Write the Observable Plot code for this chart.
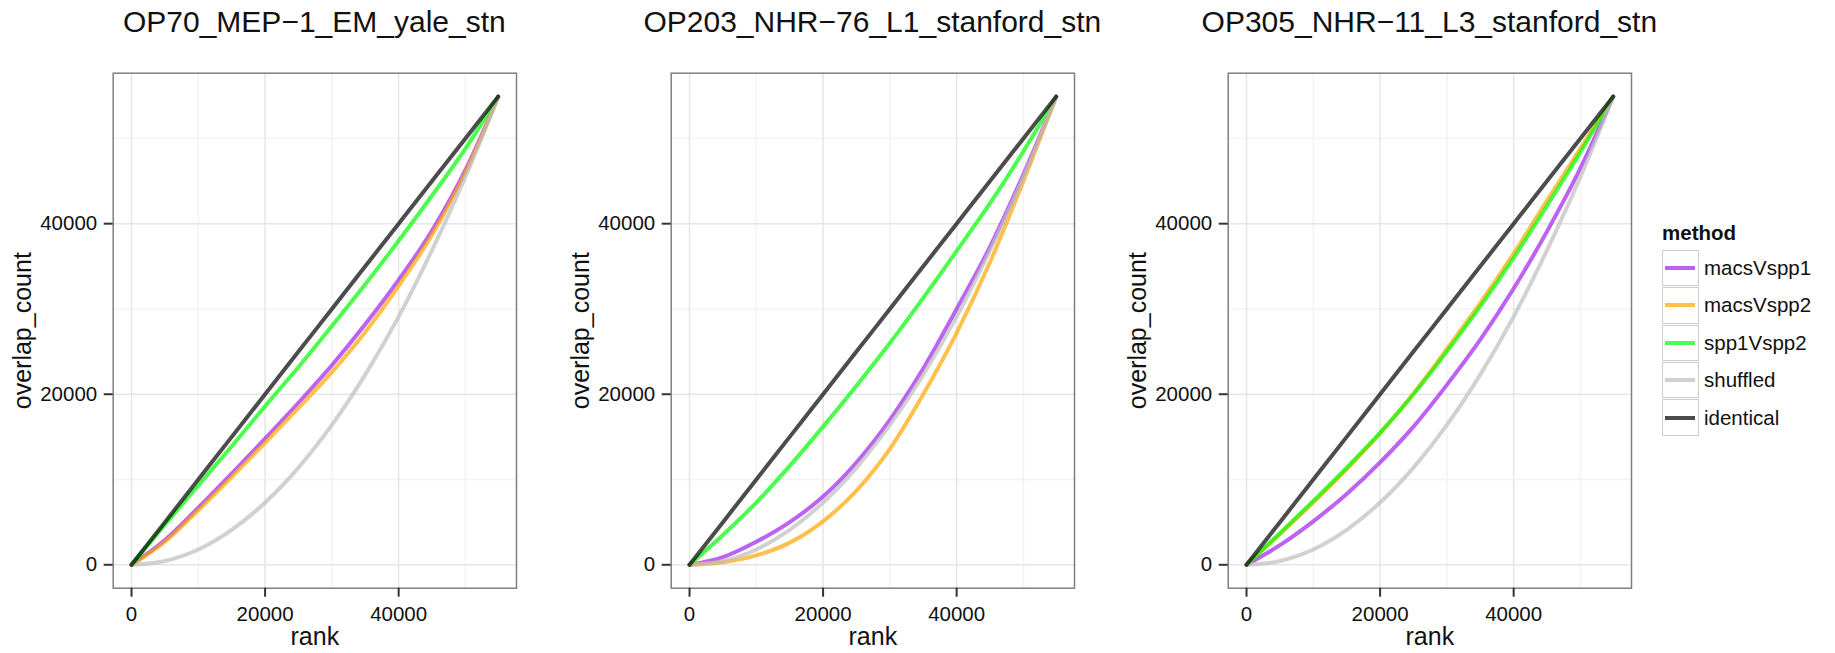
<!DOCTYPE html>
<html>
<head>
<meta charset="utf-8">
<script src="https://cdn.jsdelivr.net/npm/d3@7"></script>
<script src="https://cdn.jsdelivr.net/npm/@observablehq/plot@0.6"></script>
<style>
  html, body { margin: 0; padding: 0; background: #fff; }
  #root { position: relative; width: 1835px; height: 653px; overflow: hidden; font-family: "Liberation Sans", Arial, Helvetica, sans-serif; color: #111; }
  .ptitle { position: absolute; top: 6.9px; width: 600px; text-align: center; font-size: 30px; line-height: 30px; white-space: nowrap; }
  .panel { position: absolute; top: 40px; }
  #legend { position: absolute; left: 1662px; top: 222.6px; }
  #legend .lt { font-weight: bold; font-size: 20.5px; line-height: 20.5px; height: 26.7px; }
  #legend .row { display: flex; align-items: center; height: 37.4px; margin-left: -0.3px; }
  #legend .key { width: 35.3px; height: 34.4px; border: 1.5px solid #cccccc; background: #fff; display: flex; align-items: center; justify-content: center; }
  #legend .lab { font-size: 20.5px; margin-left: 5px; }
</style>
</head>
<body>
<div id="root"></div>
<script>
// ---- data ----
const ranks = [0, 5000, 10000, 15000, 20000, 25000, 30000, 35000, 40000, 45000, 50000, 54900];
const methods = ["macsVspp1", "macsVspp2", "spp1Vspp2", "shuffled", "identical"];
const methodColors = ["#a020f0", "#ffa500", "#00ff00", "#bebebe", "#000000"];
const panelTitles = ["OP70_MEP\u22121_EM_yale_stn", "OP203_NHR\u221276_L1_stanford_stn", "OP305_NHR\u221211_L3_stanford_stn"];
const xTicks = [0, 20000, 40000];
const yTicks = [0, 20000, 40000];
const minorTicks = [10000, 30000, 50000];

const identical = [0, 5000, 10000, 15000, 20000, 25000, 30000, 35000, 40000, 45000, 50000, 54900];
const shuffled = [0, 450, 1800, 4100, 7300, 11400, 16400, 22300, 29100, 36900, 45500, 54900];

const p1_macsVspp1 = [0, 2900, 6700, 10700, 14800, 19000, 23400, 28200, 33400, 39200, 46300, 54900];
const p1_macsVspp2 = [0, 2700, 6400, 10300, 14300, 18400, 22600, 27300, 32700, 38700, 46000, 54900];
const p1_spp1Vspp2 = [0, 4700, 9300, 13900, 18600, 23200, 28000, 32900, 38000, 43300, 48800, 54900];

const p2_macsVspp1 = [0, 900, 2700, 5000, 8000, 12000, 17000, 23000, 30000, 37300, 45800, 54900];
const p2_macsVspp2 = [0, 300, 1100, 2600, 5100, 8700, 13600, 20000, 27200, 35500, 45000, 54900];
const p2_spp1Vspp2 = [0, 3500, 7300, 11600, 16200, 21000, 26000, 31300, 36800, 42400, 48500, 54900];

const p3_macsVspp1 = [0, 2300, 5100, 8300, 12000, 16200, 21100, 26400, 32400, 39100, 46500, 54900];
const p3_macsVspp2 = [0, 3600, 7300, 11200, 15400, 20100, 25300, 30700, 36500, 42700, 48800, 54900];
const p3_spp1Vspp2 = [0, 3700, 7500, 11400, 15500, 20000, 25000, 30300, 36000, 42100, 48400, 54900];

// ---- layout ----
const panelLefts = [112.7, 670.7, 1227.7];
const panelW = 403.3;
const mL = 112.7, mR = 10, mT = 32.7, mB = 65.3;
const svgH = 613;
const domain = [-2745, 57645];

const root = document.getElementById("root");

function makePanel(series) {
  const rows = [];
  methods.forEach((m, k) => series[k].forEach((v, j) => rows.push({method: m, rank: ranks[j], count: v})));
  return Plot.plot({
    width: mL + panelW + mR,
    height: svgH,
    marginLeft: mL, marginRight: mR, marginTop: mT, marginBottom: mB,
    x: {domain},
    y: {domain},
    color: {domain: methods, range: methodColors},
    style: {fontFamily: "'Liberation Sans', Arial, Helvetica, sans-serif", fontSize: "20.5px", color: "#111", background: "transparent", overflow: "visible"},
    marks: [
      Plot.gridX(minorTicks, {stroke: "#f3f3f3", strokeOpacity: 1, strokeWidth: 1.5}),
      Plot.gridY(minorTicks, {stroke: "#f3f3f3", strokeOpacity: 1, strokeWidth: 1.5}),
      Plot.gridX(xTicks, {stroke: "#e6e6e6", strokeOpacity: 1, strokeWidth: 1.5}),
      Plot.gridY(yTicks, {stroke: "#e6e6e6", strokeOpacity: 1, strokeWidth: 1.5}),
      Plot.line(rows, {x: "rank", y: "count", z: "method", stroke: "method", strokeWidth: 4, strokeOpacity: 0.7, curve: "monotone-x", strokeLinejoin: "round"}),
      Plot.frame({stroke: "#7f7f7f", strokeWidth: 1.5}),
      Plot.axisX(xTicks, {tickSize: 9, tickPadding: 9, tickFormat: d => String(d), label: null, stroke: "#333", strokeWidth: 2, fill: "#111", fontSize: 20.5}),
      Plot.axisY(yTicks, {tickSize: 9, tickPadding: 7, tickFormat: d => String(d), label: null, stroke: "#333", strokeWidth: 2, fill: "#111", fontSize: 20.5}),
      Plot.text(["overlap_count"], {text: d => d, frameAnchor: "left", dx: -90, rotate: -90, textAnchor: "middle", lineAnchor: "middle", fontSize: 25, fill: "#111"}),
      Plot.text(["rank"], {text: d => d, frameAnchor: "bottom", dy: 49, textAnchor: "middle", lineAnchor: "middle", fontSize: 25, fill: "#111"})
    ]
  });
}

const allSeries = [
  [p1_macsVspp1, p1_macsVspp2, p1_spp1Vspp2, shuffled, identical],
  [p2_macsVspp1, p2_macsVspp2, p2_spp1Vspp2, shuffled, identical],
  [p3_macsVspp1, p3_macsVspp2, p3_spp1Vspp2, shuffled, identical]
];

allSeries.forEach((s, i) => {
  const t = document.createElement("div");
  t.className = "ptitle";
  t.style.left = (panelLefts[i] + panelW / 2 - 300) + "px";
  t.textContent = panelTitles[i];
  root.appendChild(t);
  const wrap = document.createElement("div");
  wrap.className = "panel";
  wrap.style.left = (panelLefts[i] - mL) + "px";
  wrap.appendChild(makePanel(s));
  root.appendChild(wrap);
});

// ---- legend ----
const lg = document.createElement("div");
lg.id = "legend";
const lt = document.createElement("div");
lt.className = "lt";
lt.textContent = "method";
lg.appendChild(lt);
methods.forEach((m, k) => {
  const row = document.createElement("div");
  row.className = "row";
  const key = document.createElement("div");
  key.className = "key";
  key.innerHTML = `<svg width="32" height="10"><line x1="1" x2="31" y1="5" y2="5" stroke="${methodColors[k]}" stroke-opacity="0.7" stroke-width="4"/></svg>`;
  const lab = document.createElement("span");
  lab.className = "lab";
  lab.textContent = m;
  row.appendChild(key);
  row.appendChild(lab);
  lg.appendChild(row);
});
root.appendChild(lg);
</script>
</body>
</html>
